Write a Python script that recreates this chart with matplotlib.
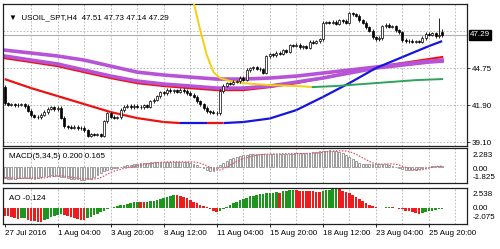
import numpy as np
import matplotlib
matplotlib.use("Agg")
import matplotlib.pyplot as plt

plt.rcParams['font.family'] = ['Liberation Sans', 'DejaVu Sans']

# ---------------------------------------------------------------- dati (H4, USOIL_SPT)
close = [42.05, 41.95, 42.0, 41.9, 41.95, 42.0, 41.85, 41.5, 41.15, 41.05,
         41.0, 41.2, 41.4, 41.65, 41.75, 41.6, 41.7, 40.95, 40.3, 40.25,
         40.2, 40.25, 40.15, 40.2, 40.0, 39.6, 39.7, 39.65, 39.7, 39.6,
         40.7, 41.3, 41.05, 40.95, 41.0, 41.55, 41.8, 41.85, 41.75, 41.85,
         41.8, 41.75, 41.9, 41.8, 42.2, 42.35, 42.6, 42.9, 42.85, 43.1,
         43.0, 43.05, 42.95, 43.1, 43.0, 42.85, 42.7, 42.55, 42.2, 42.0,
         41.7, 41.45, 41.4, 41.35, 41.3, 43.0, 43.4, 43.6, 43.55, 43.7,
         43.75, 44.0, 43.85, 44.6, 44.75, 44.8, 44.7, 44.65, 44.4, 45.65,
         45.8, 45.75, 45.9, 45.85, 46.1, 46.0, 46.5, 46.45, 46.55, 46.35,
         46.4, 46.3, 46.75, 46.7, 46.8, 46.95, 48.2, 48.25, 48.2, 48.3,
         48.15, 48.4, 48.35, 48.2, 48.95, 48.85, 48.75, 48.4, 48.2, 47.85,
         47.6, 47.1, 46.95, 47.05, 47.95, 48.05, 47.9, 47.95, 47.65, 47.5,
         46.9, 46.8, 46.85, 46.75, 46.8, 46.75, 47.05, 47.35, 47.3, 47.4,
         47.2, 47.25, 47.29]
first_open = 43.3
last_ohlc = [47.51, 47.73, 47.14, 47.29]
spike_bar = 131
spike_high = 48.55

# medie mobili (campionate)
ma_low_x = [0, 8, 16, 24, 32, 40, 48, 53, 61, 66, 72, 80, 88, 96, 104, 112, 120, 128, 132]
ma_low_y = [43.91, 43.22, 42.61, 42.0, 41.39, 40.93, 40.63, 40.55, 40.55, 40.55, 40.63,
            40.9, 41.54, 42.54, 43.6, 44.75, 45.59, 46.43, 46.81]
ma_low_col = ['r', 'r', 'r', 'r', 'r', 'r', 'r', 'b', 'r', 'b', 'b', 'b', 'b', 'b', 'b', 'b', 'b', 'b']

ma_x = [0, 8, 16, 24, 32, 40, 48, 56, 64, 72, 80, 88, 96, 104, 112, 120, 128, 132]
purple_a = [46.12, 45.9, 45.67, 45.36, 44.9, 44.44, 44.22, 44.06, 43.91, 43.91, 43.99,
            44.14, 44.37, 44.6, 44.83, 45.06, 45.28, 45.36]
purple_b = [45.67, 45.36, 45.06, 44.6, 44.14, 43.76, 43.53, 43.38, 43.22, 43.22, 43.38,
            43.68, 43.99, 44.37, 44.75, 44.98, 45.21, 45.28]
red_c = [45.51, 45.21, 44.9, 44.44, 43.99, 43.6, 43.38, 43.22, 43.07, 43.07, 43.3,
         43.6, 43.99, 44.44, 44.83, 45.13, 45.44, 45.59]

yellow_x = [55, 57, 59, 61, 63, 65, 68, 72, 80, 88, 93]
yellow_y = [51.5, 49.79, 47.65, 45.74, 44.44, 43.99, 43.76, 43.6, 43.45, 43.38, 43.3]
green_x = [93, 100, 108, 116, 124, 132]
green_y = [43.3, 43.38, 43.53, 43.68, 43.83, 43.91]

macd_main = [-1.25, -1.30, -1.32, -1.30, -1.28, -1.24, -1.22, -1.24, -1.28, -1.30, -1.26, -1.15, -1.02, -0.95, -0.92,
             -0.95, -1.00, -1.08, -1.16, -1.24, -1.30, -1.34, -1.38,
             -1.42, -1.44, -1.40, -1.30, -1.10, -0.85, -0.62,
             -0.45, -0.32, -0.22, -0.12, -0.02, 0.08, 0.16, 0.24,
             0.31, 0.37, 0.43, 0.48, 0.53, 0.57, 0.60, 0.63,
             0.65, 0.67, 0.68, 0.68, 0.68, 0.67, 0.66, 0.66,
             0.66, 0.64, 0.58, 0.45, 0.28, 0.08, -0.12,
             -0.30, -0.42, -0.38, -0.10, 0.25, 0.55, 0.80,
             1.00, 1.15, 1.28, 1.38, 1.46, 1.52, 1.55, 1.57,
             1.58, 1.58, 1.58, 1.59, 1.59, 1.60, 1.60, 1.61, 1.62, 1.62,
             1.63, 1.63, 1.64, 1.64, 1.65, 1.66, 1.70, 1.76, 1.83, 1.90,
             1.95, 1.98, 2.00, 1.98, 1.93, 1.82, 1.65, 1.45, 1.22,
             0.98, 0.76, 0.58, 0.46, 0.40, 0.38, 0.40, 0.42,
             0.43, 0.43, 0.40, 0.33, 0.22, 0.08, -0.06, -0.18,
             -0.27, -0.32, -0.33, -0.30, -0.22, -0.12, -0.02,
             0.06, 0.12, 0.16, 0.18, 0.200]
macd_signal = [-1.20, -1.22, -1.25, -1.27, -1.28, -1.28, -1.27, -1.25, -1.24, -1.25, -1.26, -1.25, -1.22, -1.16, -1.08,
               -1.02, -0.98, -0.98, -1.02, -1.08, -1.14, -1.20, -1.26,
               -1.30, -1.33, -1.35, -1.36, -1.35, -1.30, -1.18,
               -1.00, -0.78, -0.58, -0.44, -0.32, -0.22, -0.12, -0.04,
               0.05, 0.13, 0.21, 0.28, 0.34, 0.40, 0.46, 0.51,
               0.56, 0.60, 0.63, 0.65, 0.66, 0.67, 0.67, 0.67,
               0.66, 0.66, 0.65, 0.64, 0.60, 0.50, 0.35,
               0.18, 0.00, -0.18, -0.30, -0.28, -0.15, 0.05,
               0.28, 0.50, 0.70, 0.87, 1.02, 1.15, 1.26, 1.36,
               1.44, 1.50, 1.54, 1.56, 1.57, 1.58, 1.58, 1.59, 1.60, 1.60,
               1.61, 1.62, 1.62, 1.63, 1.63, 1.64, 1.65, 1.66, 1.68, 1.72,
               1.78, 1.84, 1.89, 1.93, 1.95, 1.96, 1.95, 1.92, 1.85,
               1.72, 1.55, 1.35, 1.14, 0.92, 0.72, 0.55, 0.44,
               0.40, 0.39, 0.40, 0.42, 0.42, 0.38, 0.28, 0.14,
               0.00, -0.12, -0.22, -0.28, -0.30, -0.26, -0.18,
               -0.08, 0.02, 0.08, 0.13, 0.165]

ao = [-1.0, -1.1, -1.2, -1.3, -1.4, -1.35, -1.3, -1.5, -1.65, -1.75, -1.8, -1.85,
      -1.6, -1.4, -1.2, -1.0, -0.9, -0.85,
      -0.95, -1.05, -1.2, -1.35, -1.45, -1.5, -1.55,
      -1.35, -1.15, -0.95, -0.75, -0.55, -0.35, -0.15,
      0.0, 0.1, 0.2, 0.3, 0.4, 0.5, 0.6, 0.7, 0.8,
      0.75, 0.7, 0.8, 0.85, 0.9, 0.95,
      1.1, 1.25, 1.4, 1.55, 1.65,
      1.6, 1.5, 1.35, 1.2, 1.0, 0.8, 0.6, 0.4, 0.2, 0.05,
      -0.15, -0.35, -0.5,
      -0.35, -0.15, 0.1, 0.35, 0.6, 0.8, 1.0, 1.15, 1.3,
      1.45, 1.55, 1.65, 1.75, 1.8, 1.85, 1.9, 1.95, 2.0,
      1.95, 2.1, 2.2, 2.25, 2.3,
      2.25, 2.2, 2.18, 2.15, 2.12, 2.1, 2.08, 2.05,
      2.15, 2.25, 2.3, 2.38, 2.45,
      2.35, 2.2, 2.05, 1.85, 1.65, 1.4, 1.15, 0.9, 0.65, 0.4, 0.2,
      0.05, -0.05, 0.02, 0.08, 0.1, 0.05, 0.0,
      -0.1, -0.2, -0.35, -0.45, -0.55, -0.65, -0.75,
      -0.65, -0.55, -0.45, -0.35, -0.25, -0.18, -0.124]

tick_bars = [0, 16, 32, 48, 64, 80, 96, 112, 128]
tick_labels = ['27 Jul 2016', '1 Aug 04:00', '3 Aug 20:00', '8 Aug 12:00', '11 Aug 04:00',
               '15 Aug 20:00', '18 Aug 12:00', '23 Aug 04:00', '25 Aug 20:00']
price_levels = [39.10, 41.90, 44.75, 47.60]
price_labels = ['39.10', '41.90', '44.75', '']

# ---------------------------------------------------------------- figura
fig = plt.figure(figsize=(5.0, 2.49), dpi=100)
ax = fig.add_axes([0.006, 0.4137, 0.928, 0.570])
ax_m = fig.add_axes([0.006, 0.265, 0.928, 0.1406])
ax_ao = fig.add_axes([0.006, 0.1004, 0.928, 0.1446])

fs = 5.8
grid_col = '#b0b0b0'
n = len(close)
x = np.arange(n)

for a in (ax, ax_m, ax_ao):
    a.set_xlim(-0.5, 139.5)
    for s in a.spines.values():
        s.set_color('#202020')
        s.set_linewidth(0.9)
    for gx in range(8, 140, 8):
        a.axvline(gx, color=grid_col, lw=0.6, ls=(0, (2, 2)), zorder=0)
    a.tick_params(left=False, labelleft=False, bottom=False, labelbottom=False)

# ---------------------------------------------------------------- candele
opens = [first_open] + close[:-1]
opens[-1] = last_ohlc[0]
c = np.array(close)
o = np.array(opens)
hi = np.maximum(o, c) + 0.12
lo = np.minimum(o, c) - 0.12
hi[-1] = last_ohlc[1]
lo[-1] = last_ohlc[2]
hi[spike_bar] = spike_high

ax.set_ylim(38.80, 49.64)
for lev in price_levels:
    ax.axhline(lev, color=grid_col, lw=0.6, ls=(0, (2, 2)), zorder=0)
ax.axhline(close[-1], color='#b0b0b0', lw=0.8, zorder=1)

# medie mobili
ax.plot(ma_x, red_c, color='#ee1111', lw=1.6, zorder=2)
ax.plot(ma_x, purple_b, color='#b653d6', lw=2.6, zorder=2)
ax.plot(ma_x, purple_a, color='#b653d6', lw=2.6, zorder=2)
for k in range(len(ma_low_x) - 1):
    col = '#ee1111' if ma_low_col[k] == 'r' else '#1515dd'
    ax.plot(ma_low_x[k:k + 2], ma_low_y[k:k + 2], color=col, lw=1.6, zorder=3,
            solid_capstyle='butt')
ax.plot(yellow_x, yellow_y, color='#f5cf10', lw=1.4, zorder=3)
ax.plot(green_x, green_y, color='#2fa35c', lw=1.4, zorder=3)

ax.vlines(x, lo, hi, color='black', lw=0.6, zorder=4)
up = c >= o
body_h = np.maximum(np.abs(c - o), 0.04)
ax.bar(x[up], body_h[up], bottom=o[up], width=0.6, facecolor='white', edgecolor='black', lw=0.5, zorder=5)
ax.bar(x[~up], body_h[~up], bottom=c[~up], width=0.6, facecolor='black', edgecolor='black', lw=0.5, zorder=5)

ax.text(0.012, 0.905, '\u25bc  USOIL_SPT,H4  47.51 47.73 47.14 47.29', transform=ax.transAxes,
        fontsize=fs, va='center', ha='left', family=['Liberation Sans', 'DejaVu Sans'])

ax.yaxis.tick_right()
ax.tick_params(right=True, length=2, width=0.6, color='#202020', labelright=True,
               labelsize=fs, pad=1.5)
ax.set_yticks(price_levels[:3])
ax.set_yticklabels(price_labels[:3])
ax.text(1.006, close[-1], '47.29', transform=ax.get_yaxis_transform(), fontsize=fs,
        color='white', va='center', ha='left',
        bbox=dict(boxstyle='square,pad=0.15', fc='black', ec='black'))

# ---------------------------------------------------------------- MACD
ax_m.set_ylim(-1.825, 2.283)
ax_m.bar(x, macd_main, width=0.55, facecolor='white', edgecolor='#8c8c8c', lw=0.6, zorder=2)
ax_m.plot(x, macd_signal, color='#e0506a', lw=0.9, ls=(0, (1.2, 1.2)), zorder=3)
ax_m.text(0.012, 0.77, 'MACD(5,34,5) 0.200 0.165', transform=ax_m.transAxes, fontsize=fs,
          va='center', ha='left')
for txt, yy in [('2.283', 0.80), ('0.00', 0.40), ('-1.825', 0.17)]:
    ax_m.text(1.013, yy, txt, transform=ax_m.transAxes, fontsize=fs, va='center', ha='left')

# ---------------------------------------------------------------- AO
ax_ao.set_ylim(-2.075, 2.538)
ao_arr = np.array(ao)
ao_col = ['#1d961d' if k > 0 and ao_arr[k] > ao_arr[k - 1] else '#ee1c1c' for k in range(n)]
ax_ao.bar(x, ao_arr, width=0.78, color=ao_col, zorder=2)
ax_ao.text(0.012, 0.72, 'AO -0.124', transform=ax_ao.transAxes, fontsize=fs,
           va='center', ha='left')
for txt, yy in [('2.538', 0.806), ('0.00', 0.444), ('-2.075', 0.194)]:
    ax_ao.text(1.013, yy, txt, transform=ax_ao.transAxes, fontsize=fs, va='center', ha='left')

ax_ao.set_xticks(tick_bars)
ax_ao.set_xticklabels(tick_labels, ha='left')
ax_ao.tick_params(bottom=True, labelbottom=True, length=2, width=0.6, labelsize=fs, pad=2)

fig.savefig('out.png', dpi=100)
